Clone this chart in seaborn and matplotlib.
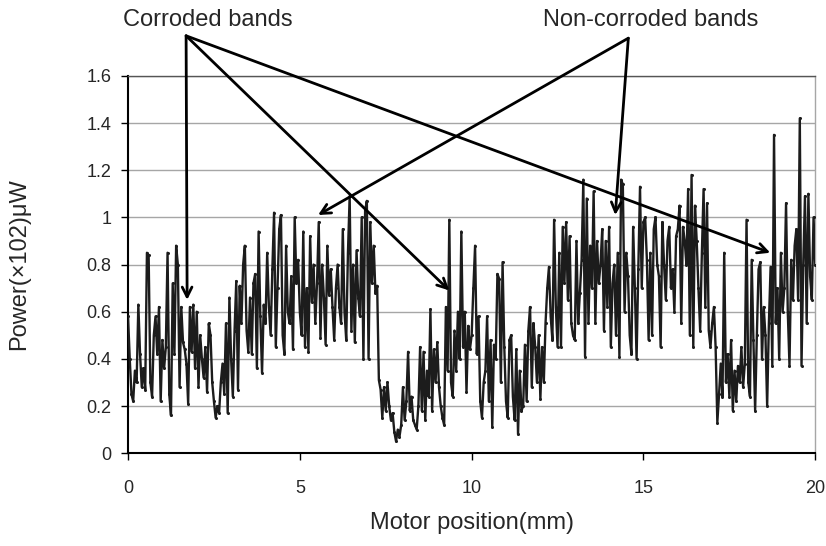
import numpy as np
import pandas as pd
import matplotlib
matplotlib.use("Agg")
import matplotlib.pyplot as plt
import seaborn as sns

# Scan readings, one value every 0.05 mm, grouped per 2 mm stretch
seg_00_02 = [0.58, 0.40, 0.25, 0.22, 0.35, 0.30, 0.63, 0.42, 0.28, 0.36,
             0.27, 0.85, 0.84, 0.30, 0.24, 0.50, 0.58, 0.42, 0.62, 0.22,
             0.48, 0.36, 0.45, 0.85, 0.25, 0.16, 0.72, 0.42, 0.88, 0.80,
             0.28, 0.62, 0.47, 0.44, 0.38, 0.21, 0.62, 0.43, 0.63, 0.36]
seg_02_04 = [0.60, 0.28, 0.50, 0.40, 0.32, 0.45, 0.26, 0.55, 0.50, 0.30,
             0.22, 0.15, 0.20, 0.17, 0.30, 0.38, 0.25, 0.55, 0.17, 0.66,
             0.40, 0.24, 0.52, 0.73, 0.27, 0.71, 0.55, 0.80, 0.88, 0.52,
             0.43, 0.66, 0.42, 0.72, 0.76, 0.36, 0.94, 0.58, 0.34, 0.63]
seg_04_06 = [0.55, 0.85, 0.62, 0.50, 0.78, 1.02, 0.45, 0.70, 0.95, 1.01,
             0.50, 0.42, 0.88, 0.60, 0.55, 0.75, 0.44, 1.00, 0.72, 0.82,
             0.60, 0.50, 0.94, 0.45, 0.70, 0.43, 0.92, 0.64, 0.80, 0.55,
             0.72, 0.98, 0.49, 0.80, 0.66, 0.46, 0.88, 0.67, 0.78, 0.62]
seg_06_08 = [0.48, 0.70, 0.80, 0.62, 0.55, 0.95, 0.60, 0.48, 0.85, 1.09,
             0.52, 0.80, 0.47, 0.86, 0.66, 0.58, 1.00, 0.40, 1.03, 1.07,
             0.40, 0.98, 0.72, 0.88, 0.68, 0.71, 0.31, 0.27, 0.15, 0.28,
             0.18, 0.30, 0.20, 0.14, 0.17, 0.09, 0.05, 0.10, 0.07, 0.12]
seg_08_10 = [0.28, 0.14, 0.22, 0.43, 0.18, 0.24, 0.14, 0.12, 0.10, 0.20,
             0.45, 0.18, 0.43, 0.14, 0.35, 0.24, 0.61, 0.18, 0.44, 0.30,
             0.47, 0.28, 0.20, 0.15, 0.12, 0.62, 0.35, 0.99, 0.30, 0.24,
             0.52, 0.35, 0.60, 0.40, 0.94, 0.45, 0.60, 0.26, 0.54, 0.44]
seg_10_12 = [0.50, 0.70, 0.88, 0.42, 0.58, 0.22, 0.15, 0.30, 0.35, 0.58,
             0.22, 0.48, 0.11, 0.46, 0.40, 0.76, 0.74, 0.30, 0.81, 0.45,
             0.22, 0.15, 0.48, 0.50, 0.24, 0.14, 0.44, 0.08, 0.35, 0.18,
             0.20, 0.46, 0.22, 0.52, 0.62, 0.28, 0.55, 0.45, 0.30, 0.50]
seg_12_14 = [0.23, 0.45, 0.30, 0.55, 0.70, 0.79, 0.58, 0.48, 0.99, 0.62,
             0.45, 0.85, 0.45, 0.96, 0.72, 0.98, 0.65, 0.92, 0.55, 0.50,
             0.48, 0.90, 0.55, 0.68, 0.82, 1.16, 0.41, 1.08, 0.55, 0.88,
             0.70, 1.11, 0.55, 0.90, 0.72, 0.80, 0.95, 0.52, 0.90, 0.62]
seg_14_16 = [0.96, 0.45, 0.72, 0.80, 0.50, 0.85, 0.41, 1.16, 1.14, 0.60,
             0.85, 0.75, 0.50, 0.42, 0.96, 0.70, 0.40, 0.78, 1.13, 0.70,
             0.98, 1.00, 0.82, 0.48, 0.85, 0.50, 0.95, 1.00, 0.80, 0.75,
             0.45, 0.98, 0.80, 0.65, 0.90, 0.96, 0.70, 0.78, 0.60, 0.92]
seg_16_18 = [0.95, 1.05, 0.55, 0.96, 0.90, 0.80, 1.12, 0.50, 1.18, 0.45,
             1.05, 0.90, 0.70, 0.52, 0.85, 1.12, 0.62, 1.06, 0.52, 0.45,
             0.55, 0.62, 0.45, 0.13, 0.25, 0.38, 0.24, 0.85, 0.30, 0.42,
             0.24, 0.48, 0.18, 0.35, 0.22, 0.37, 0.30, 0.45, 0.28, 0.38]
seg_18_20 = [0.99, 0.30, 0.24, 0.82, 0.48, 0.18, 0.50, 0.78, 0.81, 0.40,
             0.62, 0.50, 0.20, 0.55, 0.79, 0.37, 1.35, 0.55, 0.70, 0.40,
             0.85, 0.60, 0.70, 1.06, 0.60, 0.37, 0.82, 0.65, 0.88, 0.95,
             0.65, 1.42, 0.37, 0.80, 1.09, 0.55, 1.10, 0.75, 0.65, 1.00,
             0.80]

power = (seg_00_02 + seg_02_04 + seg_04_06 + seg_06_08 + seg_08_10 +
         seg_10_12 + seg_12_14 + seg_14_16 + seg_16_18 + seg_18_20)
step_mm = 0.05
position = [round(i * step_mm, 2) for i in range(len(power))]

y_ticks = [0, 0.2, 0.4, 0.6, 0.8, 1.0, 1.2, 1.4, 1.6]
y_tick_labels = ["0", "0.2", "0.4", "0.6", "0.8", "1", "1.2", "1.4", "1.6"]
x_ticks = [0, 5, 10, 15, 20]

# Annotation callouts: label, label anchor (data), arrow tips (data)
corroded_label = "Corroded bands"
corroded_origin = (1.69, 1.77)
corroded_tips = [(1.72, 0.65), (9.35, 0.69), (18.69, 0.85)]
clean_label = "Non-corroded bands"
clean_origin = (14.56, 1.76)
clean_tips = [(5.53, 1.01), (14.18, 1.01)]

df = pd.DataFrame({"Motor position(mm)": position, "Power": power})

sns.set_style("white")
plt.rcParams["font.family"] = ["Liberation Sans", "DejaVu Sans"]

fig = plt.figure(figsize=(8.26, 5.46), dpi=100)
ax = fig.add_axes([0.155, 0.170, 0.832, 0.691])

for yv in y_ticks[1:]:
    ax.axhline(yv, color="#a6a6a6", lw=1.0, zorder=0)

sns.lineplot(data=df, x="Motor position(mm)", y="Power", ax=ax,
             color="#1c1c1c", lw=1.7, marker="o", markersize=2.2,
             markeredgewidth=0, zorder=3)

ax.set_xlim(0, 20)
ax.set_ylim(0, 1.6)
ax.set_xticks(x_ticks)
ax.set_xticklabels([str(t) for t in x_ticks])
ax.set_yticks(y_ticks)
ax.set_yticklabels(y_tick_labels)
ax.tick_params(axis="both", which="major", labelsize=13, direction="out",
               length=5, width=1, color="black", left=True, bottom=True)
ax.tick_params(axis="x", pad=14)
ax.tick_params(axis="y", pad=7)
ax.set_xlabel("Motor position(mm)", fontsize=17)
ax.set_ylabel("Power(×102)μW", fontsize=17)
ax.xaxis.set_label_coords(0.5, -0.155)
ax.yaxis.set_label_coords(-0.143, 0.5)

for side in ("left", "bottom"):
    ax.spines[side].set_color("black")
    ax.spines[side].set_linewidth(1.5)
ax.spines["top"].set_color("#555555")
ax.spines["top"].set_linewidth(1.0)
ax.spines["right"].set_color("#a6a6a6")
ax.spines["right"].set_linewidth(1.0)

arrow_style = dict(arrowstyle="->,head_length=0.7,head_width=0.35",
                   color="black", lw=2.0, shrinkA=0, shrinkB=0)
for tip in corroded_tips:
    ax.annotate("", xy=tip, xytext=corroded_origin, xycoords="data",
                textcoords="data", arrowprops=arrow_style,
                annotation_clip=False, zorder=5)
for tip in clean_tips:
    ax.annotate("", xy=tip, xytext=clean_origin, xycoords="data",
                textcoords="data", arrowprops=arrow_style,
                annotation_clip=False, zorder=5)

ax.text(2.33, 1.835, corroded_label, ha="center", va="center",
        fontsize=17, clip_on=False)
ax.text(15.2, 1.835, clean_label, ha="center", va="center",
        fontsize=17, clip_on=False)

fig.savefig("out.png", dpi=100)
